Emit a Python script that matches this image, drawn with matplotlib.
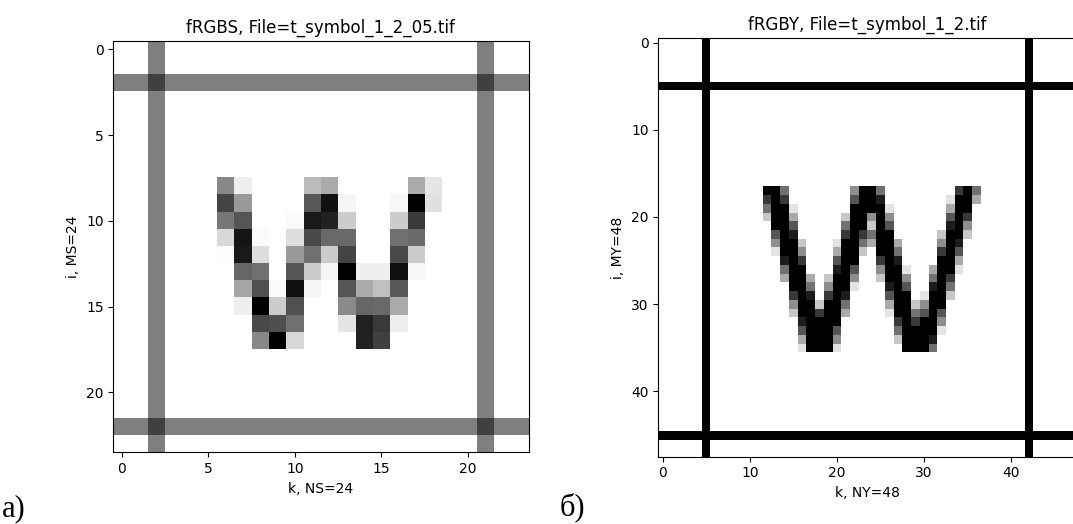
import numpy as np
import matplotlib.pyplot as plt

# ---- left image fRGBS (24x24), darkness 0..255 ----
NS = 24
frame_rows_s = [2, 22]
frame_cols_s = [2, 21]
frame_level_s = 128
cross_level_s = 191
glyph_s_row0, glyph_s_col0 = 8, 6
glyph_s = [
    [119, 17, 0, 0, 0, 68, 85, 0, 0, 0, 0, 85, 26],
    [187, 102, 0, 0, 0, 165, 238, 10, 0, 0, 8, 255, 31],
    [136, 170, 0, 0, 5, 229, 221, 51, 0, 0, 51, 197, 0],
    [39, 234, 5, 0, 34, 181, 149, 149, 0, 0, 143, 149, 0],
    [3, 229, 34, 0, 102, 143, 51, 187, 0, 0, 181, 51, 0],
    [0, 153, 143, 0, 170, 51, 10, 255, 17, 17, 238, 8, 0],
    [0, 90, 175, 5, 238, 10, 0, 170, 85, 63, 165, 0, 0],
    [0, 17, 255, 51, 175, 0, 0, 117, 153, 149, 85, 0, 0],
    [0, 0, 181, 176, 143, 0, 0, 26, 221, 197, 17, 0, 0],
    [0, 0, 119, 255, 39, 0, 0, 0, 221, 191, 0, 0, 0],
]

# ---- right image fRGBY (48x48), darkness in ninths (0..9) ----
NY = 48
frame_rows_y = [5, 45]
frame_cols_y = [5, 42]
glyph_y_row0, glyph_y_col0 = 17, 12
glyph_y = [
    "9950000000499500000000795",
    "7970000000699800000001993",
    "5991000000999910000003990",
    "2993000002994940000006970",
    "0996000005992960000008940",
    "0698000007975990000029920",
    "0499200019953993000049800",
    "0199400039920995000079600",
    "0089700069900798000099300",
    "0059900089600499100399100",
    "0039930299400299400597000",
    "0009950499100089600895000",
    "0007980798000069901992000",
    "0004992995000039924990000",
    "0002997993000019956960000",
    "0000899990000007979940000",
    "0000699960000005999910000",
    "0000399940000002999800000",
    "0000199910000000999500000",
]


def build_s():
    img = np.zeros((NS, NS))
    for r in frame_rows_s:
        img[r, :] = frame_level_s
    for c in frame_cols_s:
        img[:, c] = frame_level_s
    for r in frame_rows_s:
        for c in frame_cols_s:
            img[r, c] = cross_level_s
    g = np.array(glyph_s, dtype=float)
    img[glyph_s_row0:glyph_s_row0 + g.shape[0], glyph_s_col0:glyph_s_col0 + g.shape[1]] = g
    return img / 255.0


def build_y():
    img = np.zeros((NY, NY))
    for r in frame_rows_y:
        img[r, :] = 1.0
    for c in frame_cols_y:
        img[:, c] = 1.0
    g = np.array([[int(ch) / 9.0 for ch in row] for row in glyph_y])
    img[glyph_y_row0:glyph_y_row0 + g.shape[0], glyph_y_col0:glyph_y_col0 + g.shape[1]] = g
    return img


W, H = 1073, 524
fig = plt.figure(figsize=(W / 100, H / 100), dpi=100)

ax1 = fig.add_axes([113.3 / W, (H - 452.3) / H, 415.2 / W, 411.6 / H])
ax1.imshow(build_s(), cmap='gray_r', vmin=0, vmax=1, aspect='auto', interpolation='nearest')
ax1.set_title('fRGBS, File=t_symbol_1_2_05.tif')
ax1.set_xlabel('k, NS=24')
ax1.set_ylabel('i, MS=24')
ax1.set_xticks([0, 5, 10, 15, 20])
ax1.set_yticks([0, 5, 10, 15, 20])

ax2 = fig.add_axes([658.3 / W, (H - 456.7) / H, 418.4 / W, 418.4 / H])
ax2.imshow(build_y(), cmap='gray_r', vmin=0, vmax=1, aspect='auto', interpolation='nearest')
ax2.set_title('fRGBY, File=t_symbol_1_2.tif')
ax2.set_xlabel('k, NY=48')
ax2.set_ylabel('i, MY=48')
ax2.set_xticks([0, 10, 20, 30, 40])
ax2.set_yticks([0, 10, 20, 30, 40])

fig.text(2 / W, 8 / H, 'а)', fontsize=22, family='Liberation Serif')
fig.text(560 / W, 9 / H, 'б)', fontsize=22, family='Liberation Serif')

fig.savefig('out.png', dpi=100)
